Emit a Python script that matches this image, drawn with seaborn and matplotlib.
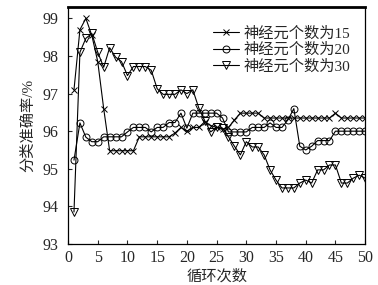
import numpy as np
import pandas as pd
import matplotlib
matplotlib.use("Agg")
import matplotlib.pyplot as plt
import seaborn as sns

# dados
cycles = list(range(1, 51))
acc_15 = [97.1, 98.7, 99.0, 98.55, 97.85, 96.6, 95.48, 95.48, 95.48, 95.48,
          95.48, 95.85, 95.85, 95.85, 95.85, 95.85, 95.85, 95.95, 96.1, 96.0,
          96.1, 96.1, 96.25, 96.15, 96.1, 96.05, 96.1, 96.3, 96.48, 96.48,
          96.48, 96.48, 96.35, 96.35, 96.35, 96.35, 96.35, 96.35, 96.35, 96.35,
          96.35, 96.35, 96.35, 96.35, 96.48, 96.35, 96.35, 96.35, 96.35, 96.35]
acc_20 = [95.23, 96.22, 95.84, 95.72, 95.72, 95.85, 95.85, 95.85, 95.85, 95.98,
          96.1, 96.1, 96.1, 95.98, 96.1, 96.1, 96.23, 96.23, 96.48, 96.08,
          96.48, 96.48, 96.48, 96.48, 96.48, 96.35, 95.98, 95.98, 95.98, 95.98,
          96.1, 96.1, 96.1, 96.22, 96.1, 96.1, 96.3, 96.6, 95.6, 95.5,
          95.6, 95.75, 95.75, 95.75, 96.0, 96.0, 96.0, 96.0, 96.0, 96.0]
acc_30 = [93.85, 98.1, 98.47, 98.6, 98.1, 97.7, 98.22, 97.97, 97.85, 97.48,
          97.72, 97.72, 97.72, 97.62, 97.13, 96.98, 96.98, 96.98, 97.1, 97.0,
          97.1, 96.62, 96.28, 95.98, 96.1, 96.08, 95.85, 95.6, 95.37, 95.72,
          95.58, 95.58, 95.37, 94.97, 94.7, 94.49, 94.49, 94.49, 94.62, 94.7,
          94.62, 94.97, 94.97, 95.1, 95.1, 94.62, 94.62, 94.75, 94.83, 94.75]
labels = ["神经元个数为15", "神经元个数为20", "神经元个数为30"]

sns.set_style("ticks")
plt.rcParams["font.family"] = ["Liberation Serif", "Noto Sans CJK SC"]
plt.rcParams["xtick.direction"] = "in"
plt.rcParams["ytick.direction"] = "in"

fig = plt.figure(figsize=(3.78, 2.85), dpi=100)
ax = fig.add_axes([0.180, 0.144, 0.786, 0.831])

estilos = [("x", 4, "k"), ("o", 5, "none"), ("v", 5.5, "none")]
for serie, lab, (mk, ms, fc) in zip([acc_15, acc_20, acc_30], labels, estilos):
    sns.lineplot(x=cycles, y=serie, ax=ax, color="k", linewidth=0.8,
                 marker=mk, markersize=ms, markerfacecolor=fc,
                 markeredgecolor="k", markeredgewidth=0.7, label=lab)

ax.set_xlim(0, 50)
ax.set_ylim(93, 99.3)
ax.set_xticks(range(0, 51, 5))
ax.set_yticks(range(93, 100))
ax.tick_params(labelsize=11.5, length=3, width=0.8)
ax.tick_params(axis="x", pad=4)
ax.tick_params(axis="y", pad=7)
ax.set_xlabel("循环次数", fontsize=11, labelpad=3)
ax.set_ylabel("分类准确率/%", fontsize=11, labelpad=5)
for s in ax.spines.values():
    s.set_color("k")
    s.set_linewidth(0.9)
ax.spines["top"].set_linewidth(2)

ax.legend(loc="upper right", bbox_to_anchor=(0.95, 0.92), frameon=False,
          fontsize=11, handlelength=1.7, handletextpad=0.3, labelspacing=0.15,
          borderaxespad=0, borderpad=0)

fig.savefig("out.png", dpi=100)
